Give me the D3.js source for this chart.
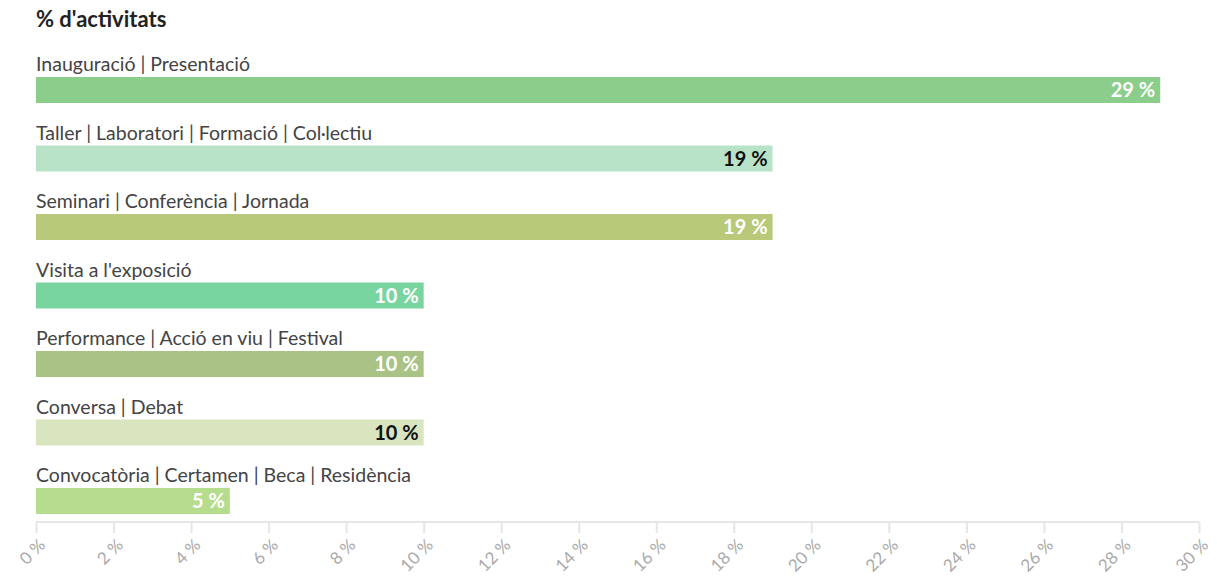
<!DOCTYPE html>
<html><head><meta charset="utf-8">
<script src="https://cdn.jsdelivr.net/npm/d3@7"></script>
<style>
body{margin:0;background:#fff;}
svg{font-family:Lato, "Open Sans", sans-serif;}
</style></head>
<body><svg id="c" width="1217" height="579"></svg>
<script>
const categories = ["Inauguració | Presentació","Taller | Laboratori | Formació | Col·lectiu","Seminari | Conferència | Jornada","Visita a l'exposició","Performance | Acció en viu | Festival","Conversa | Debat","Convocatòria | Certamen | Beca | Residència"];
const values = [29,19,19,10,10,10,5];
const colors = ["#8bcd8b","#b9e3c9","#b8c979","#78d5a0","#a8c385","#d8e5bf","#b6dc8d"];
const labelColors = ["#fff","#111","#fff","#fff","#fff","#111","#fff"];
const ticks = [0,2,4,6,8,10,12,14,16,18,20,22,24,26,28,30];

const svg = d3.select("#c");
const x = d3.scaleLinear().domain([0,30]).range([36,1199]);
const y = d3.scaleBand().domain(categories).range([53,532.5]).padding(0);

svg.append("text").attr("x",36).attr("y",27).attr("font-size",22).attr("font-weight","bold").attr("fill","#222").text("% d'activitats");

const axisY = 522;
const ax = svg.append("g").attr("transform",`translate(0,${axisY})`)
  .call(d3.axisBottom(x).tickValues(ticks).tickSize(11).tickFormat(d=>d+" %"));
ax.select(".domain").attr("stroke","#e6e6e6").attr("stroke-width",2).attr("d",`M${x(0)},0H${x(30)}`);
ax.selectAll(".tick line").attr("stroke","#e6e6e6").attr("stroke-width",2);
ax.selectAll(".tick text").attr("fill","#aaa").attr("font-size",17).attr("font-family","Lato, sans-serif")
  .attr("text-anchor","end").attr("dy",null).attr("y",null)
  .attr("transform","translate(10,24) rotate(-45)");

const g = svg.selectAll("g.row").data(categories).enter().append("g").attr("class","row");
g.append("text").attr("x",36).attr("y",d=>y(d)+18).attr("font-size",19.5).attr("fill","#444").text(d=>d);
g.append("rect").attr("x",x(0)).attr("y",d=>y(d)+24).attr("height",26)
  .attr("width",(d,i)=>x(values[i])-x(0)).attr("fill",(d,i)=>colors[i]);
g.append("text").attr("x",(d,i)=>x(values[i])-5).attr("y",d=>y(d)+44).attr("text-anchor","end")
  .attr("font-size",20).attr("font-weight","bold").attr("fill",(d,i)=>labelColors[i]).text((d,i)=>values[i]+" %");
</script></body></html>
